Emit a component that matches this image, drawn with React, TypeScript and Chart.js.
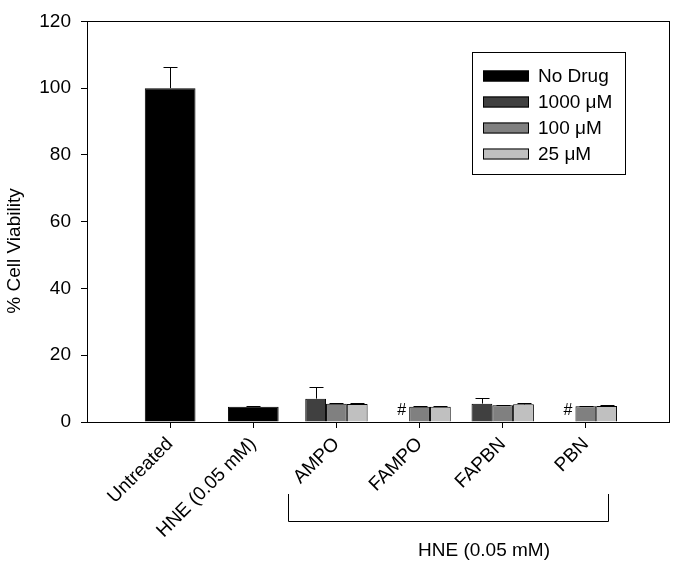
import React, { useEffect, useRef } from 'react';
import { Chart, registerables } from 'chart.js';

Chart.register(...registerables);

// ---------- data ----------
const categories = ['Untreated', 'HNE (0.05 mM)', 'AMPO', 'FAMPO', 'FAPBN', 'PBN'];
const seriesNames = ['No Drug', '1000 \u03BCM', '100 \u03BCM', '25 \u03BCM'];
const seriesColors = ['#000000', '#404040', '#808080', '#c0c0c0'];
const noDrugValues = [100, 4.6, null, null, null, null];
const noDrugErrors = [6.2, 0.3, null, null, null, null];
const uM1000Values = [null, null, 7.0, null, 5.5, null];
const uM1000Errors = [null, null, 3.4, null, 1.6, null];
const uM100Values = [null, null, 5.5, 4.6, 5.0, 4.7];
const uM100Errors = [null, null, 0.2, 0.1, 0.2, 0.2];
const uM25Values = [null, null, 5.4, 4.6, 5.3, 4.8];
const uM25Errors = [null, null, 0.3, 0.1, 0.3, 0.3];
const hashMarks = [false, false, false, true, false, true];
const yTicks = [0, 20, 40, 60, 80, 100, 120];
const yTitle = '% Cell Viability';
const bracketLabel = 'HNE (0.05 mM)';

const FONT = "'Liberation Sans', Arial, Helvetica, sans-serif";

type Pt = { x: number; y: number; err: number | null };
const toPoints = (vals: (number | null)[], errs: (number | null)[]): Pt[] =>
  vals.flatMap((v, i) => (v == null ? [] : [{ x: i, y: v, err: errs[i] }]));

const overlayPlugin = {
  id: 'overlay',
  afterDraw(chart: any) {
    const { ctx, chartArea: ca } = chart;
    const xs = chart.scales.x;
    const ys = chart.scales.y;
    const unit = xs.getPixelForValue(1) - xs.getPixelForValue(0);
    ctx.save();
    ctx.strokeStyle = '#000';
    ctx.lineWidth = 1;

    // error bars (upper only)
    chart.data.datasets.forEach((ds: any, di: number) => {
      const meta = chart.getDatasetMeta(di);
      meta.data.forEach((el: any, j: number) => {
        const p = ds.data[j];
        if (!p || p.err == null) return;
        const x = Math.round(el.x) + 0.5;
        const yTop = el.y;
        const yErr = Math.round(ys.getPixelForValue(p.y + p.err)) + 0.5;
        ctx.beginPath();
        ctx.moveTo(x, yTop);
        ctx.lineTo(x, yErr);
        ctx.moveTo(x - 7, yErr);
        ctx.lineTo(x + 7, yErr);
        ctx.stroke();
      });
    });

    // frame
    ctx.strokeRect(Math.round(ca.left) + 0.5, Math.round(ca.top) + 0.5,
      Math.round(ca.right - ca.left), Math.round(ca.bottom - ca.top));

    // '#' marks in empty 1000 uM slot
    ctx.fillStyle = '#000';
    ctx.font = `16px ${FONT}`;
    ctx.textAlign = 'center';
    ctx.textBaseline = 'alphabetic';
    hashMarks.forEach((h, i) => {
      if (!h) return;
      const x = xs.getPixelForValue(i) - unit * 0.25 + 3;
      ctx.fillText('#', x, ys.getPixelForValue(0) - 7.5);
    });

    // bracket under drug groups
    const bl = Math.round(xs.getPixelForValue(1.42)) + 0.5;
    const br = Math.round(xs.getPixelForValue(5.27)) + 0.5;
    ctx.beginPath();
    ctx.moveTo(bl, 494);
    ctx.lineTo(bl, 521.5);
    ctx.lineTo(br, 521.5);
    ctx.lineTo(br, 494);
    ctx.stroke();
    ctx.font = `19px ${FONT}`;
    ctx.textBaseline = 'middle';
    ctx.fillText(bracketLabel, xs.getPixelForValue(3.775), 551);

    // y title
    ctx.save();
    ctx.translate(15, 251);
    ctx.rotate(-Math.PI / 2);
    ctx.textAlign = 'center';
    ctx.textBaseline = 'middle';
    ctx.fillText(yTitle, 0, 0);
    ctx.restore();

    // legend
    ctx.strokeRect(472.5, 52.5, 153, 122);
    ctx.textAlign = 'left';
    ctx.textBaseline = 'middle';
    chart.data.datasets.forEach((ds: any, di: number) => {
      const cy = 76 + di * 26;
      ctx.fillStyle = ds.backgroundColor;
      ctx.fillRect(483, cy - 5.5, 46, 11);
      ctx.strokeRect(483.5, cy - 5, 45, 10);
      ctx.fillStyle = '#000';
      ctx.fillText(ds.label, 538, cy + 1);
    });
    ctx.restore();
  },
};

export default function App() {
  const ref = useRef<HTMLCanvasElement>(null);
  useEffect(() => {
    if (!ref.current) return;
    const valueSets = [noDrugValues, uM1000Values, uM100Values, uM25Values];
    const errSets = [noDrugErrors, uM1000Errors, uM100Errors, uM25Errors];
    const datasets = valueSets.map((vals, k) => ({
      label: seriesNames[k],
      data: toPoints(vals, errSets[k]),
      backgroundColor: seriesColors[k],
      borderColor: '#000',
      borderWidth: 1,
      grouped: k !== 0,
      barPercentage: k === 0 ? 0.61 : 1,
      categoryPercentage: k === 0 ? 1 : 0.75,
    }));
    const chart = new Chart(ref.current, {
      type: 'bar',
      data: { datasets: datasets as any },
      plugins: [overlayPlugin],
      options: {
        animation: false,
        responsive: false,
        events: [],
        layout: { padding: { top: 14, right: 7, left: 0, bottom: 0 } },
        plugins: { legend: { display: false }, tooltip: { enabled: false } },
        scales: {
          x: {
            type: 'linear',
            min: -1,
            max: 6,
            offset: false,
            afterBuildTicks: (s: any) => { s.ticks = categories.map((_, i) => ({ value: i })); },
            afterFit: (s: any) => { s.height = 145; },
            grid: { display: true, offset: false, drawOnChartArea: false, drawTicks: true, tickLength: 6, color: '#000' },
            border: { display: false },
            ticks: {
              autoSkip: false,
              minRotation: 45,
              maxRotation: 45,
              padding: 5,
              color: '#000',
              font: { family: FONT, size: 19 },
              callback: (v: any) => categories[v] ?? '',
            },
          },
          y: {
            type: 'linear',
            min: 0,
            max: 120,
            afterBuildTicks: (s: any) => { s.ticks = yTicks.map((v) => ({ value: v })); },
            afterFit: (s: any) => { s.width = 87; },
            grid: { display: true, drawOnChartArea: false, drawTicks: true, tickLength: 6, color: '#000' },
            border: { display: false },
            ticks: { padding: 10, color: '#000', font: { family: FONT, size: 19 } },
          },
        },
      } as any,
    });
    return () => chart.destroy();
  }, []);
  return (
    <div style={{ position: 'fixed', left: 0, top: 0, width: 676, height: 567, background: '#fff' }}>
      <canvas ref={ref} width={676} height={567} style={{ display: 'block' }} />
    </div>
  );
}
